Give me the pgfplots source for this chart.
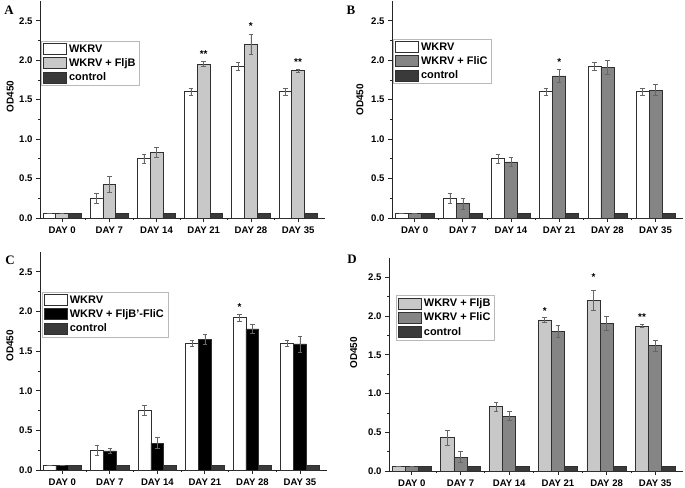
\documentclass[border=0pt]{standalone}
\usepackage{pgfplots}
\pgfplotsset{compat=1.18}
\usepackage{pgfplotstable}
\usepackage{fontspec}
\setmainfont{Liberation Sans}
\newfontfamily\serifb{Liberation Serif}

\definecolor{cfljb}{HTML}{C8C8C8}
\definecolor{cflic}{HTML}{858585}
\definecolor{cctrl}{HTML}{3A3A3A}
\definecolor{cedge}{HTML}{303030}

% day, mean and error per group
\pgfplotstableread{
x wkrv wkrve fljb fljbe flic flice fc fce ctrl
0 0.06 0    0.06 0    0.06 0    0.06 0    0.06
1 0.25 0.06 0.43 0.10 0.18 0.07 0.24 0.03 0.06
2 0.75 0.06 0.83 0.06 0.71 0.06 0.34 0.07 0.06
3 1.60 0.04 1.95 0.03 1.80 0.08 1.65 0.06 0.06
4 1.92 0.05 2.20 0.13 1.91 0.09 1.78 0.06 0.055
5 1.60 0.04 1.87 0.02 1.62 0.07 1.59 0.10 0.06
}\data

\tikzset{star/.style={font=\bfseries\fontsize{10}{10}\selectfont, inner sep=0pt}}

\pgfplotsset{
  panel/.style={
    scale only axis, ybar, bar width=0.27,
    xmin=-0.47, xmax=5.57, ymin=0, ymax=2.75,
    axis lines*=left, axis line style={-, line width=0.8bp, black!85},
    xtick={0,1,2,3,4,5},
    xticklabels={DAY 0, DAY 7, DAY 14, DAY 21, DAY 28, DAY 35},
    minor xtick={0.5,1.5,2.5,3.5,4.5},
    ytick={0,0.5,1,1.5,2,2.5},
    minor ytick={0.25,0.75,1.25,1.75,2.25},
    yticklabel style={/pgf/number format/.cd, fixed, fixed zerofill, precision=1},
    /pgf/number format/assume math mode=true,
    tick align=outside, major tick length=4bp, minor tick length=2bp,
    tick style={black!85, line width=0.8bp},
    ticklabel style={font=\bfseries\fontsize{9.6}{10}\selectfont},
    xticklabel style={yshift=-1.5bp},
    ylabel={OD450},
    ylabel style={font=\bfseries\fontsize{10}{11}\selectfont, anchor=center},
    legend cell align=left,
    legend style={anchor=north west, draw=gray!55, fill=white,
      font=\bfseries\fontsize{11}{12}\selectfont, row sep=0.8bp,
      inner xsep=2bp, inner ysep=1.5bp},
    legend image code/.code={\draw[#1] (0bp,-5.5bp) rectangle (23bp,5.5bp);},
    clip=false,
  },
  barst/.style={draw=cedge, line width=0.7bp, fill=#1},
  err/.style={
    /pgfplots/error bars/y dir=both, /pgfplots/error bars/y explicit,
    /pgfplots/error bars/error bar style={line width=0.6bp, gray!80!black},
    /pgfplots/error bars/error mark options={rotate=90, mark size=2.3bp, line width=0.6bp, gray!80!black}},
}

\begin{document}
\begin{tikzpicture}
\useasboundingbox (0,0) rectangle (685bp,488bp);

% A
\begin{axis}[panel, at={(40bp,270bp)}, width=285bp, height=217bp,
  ylabel style={at={(axis description cs:-0.105,0.56)}},
  legend style={at={(axis description cs:0.004,0.816)}}]
\addplot[barst=white, err, bar shift=-0.27] table[x=x, y=wkrv, y error=wkrve] {\data};
\addplot[barst=cfljb, err, bar shift=0] table[x=x, y=fljb, y error=fljbe] {\data};
\addplot[barst=cctrl, bar shift=0.27] table[x=x, y=ctrl] {\data};
\legend{WKRV, WKRV + FljB, control}
\node[star] at (axis cs:3,2.08) {**};
\node[star] at (axis cs:4,2.43) {*};
\node[star] at (axis cs:5,1.97) {**};
\end{axis}

% B
\begin{axis}[panel, at={(392bp,270bp)}, width=291bp, height=217bp,
  ylabel style={at={(axis description cs:-0.11,0.545)}},
  legend style={at={(axis description cs:0.004,0.825)}}]
\addplot[barst=white, err, bar shift=-0.27] table[x=x, y=wkrv, y error=wkrve] {\data};
\addplot[barst=cflic, err, bar shift=0] table[x=x, y=flic, y error=flice] {\data};
\addplot[barst=cctrl, bar shift=0.27] table[x=x, y=ctrl] {\data};
\legend{WKRV, WKRV + FliC, control}
\node[star] at (axis cs:3,1.97) {*};
\end{axis}

% C
\begin{axis}[panel, at={(40bp,18bp)}, width=287bp, height=218bp,
  ylabel style={at={(axis description cs:-0.105,0.57)}},
  legend style={at={(axis description cs:0.007,0.816)}}]
\addplot[barst=white, err, bar shift=-0.27] table[x=x, y=wkrv, y error=wkrve] {\data};
\addplot[barst=black, err, bar shift=0] table[x=x, y=fc, y error=fce] {\data};
\addplot[barst=cctrl, bar shift=0.27] table[x=x, y=ctrl] {\data};
\legend{WKRV, WKRV + FljB'-FliC, control}
\node[star] at (axis cs:3.73,2.06) {*};
\end{axis}

% D
\begin{axis}[panel, at={(389bp,17bp)}, width=294bp, height=213bp,
  ylabel style={at={(axis description cs:-0.12,0.555)}},
  legend style={at={(axis description cs:0.024,0.826)}}]
\addplot[barst=cfljb, err, bar shift=-0.27] table[x=x, y=fljb, y error=fljbe] {\data};
\addplot[barst=cflic, err, bar shift=0] table[x=x, y=flic, y error=flice] {\data};
\addplot[barst=cctrl, bar shift=0.27] table[x=x, y=ctrl] {\data};
\legend{WKRV + FljB, WKRV + FliC, control}
\node[star] at (axis cs:2.73,2.06) {*};
\node[star] at (axis cs:3.73,2.50) {*};
\node[star] at (axis cs:4.73,1.99) {**};
\end{axis}

% panel letters
\node[font=\serifb\bfseries\fontsize{13}{13}\selectfont] at (9bp,478bp) {A};
\node[font=\serifb\bfseries\fontsize{13}{13}\selectfont] at (351bp,478bp) {B};
\node[font=\serifb\bfseries\fontsize{13}{13}\selectfont] at (10bp,228bp) {C};
\node[font=\serifb\bfseries\fontsize{13}{13}\selectfont] at (352bp,229bp) {D};
\end{tikzpicture}
\end{document}
